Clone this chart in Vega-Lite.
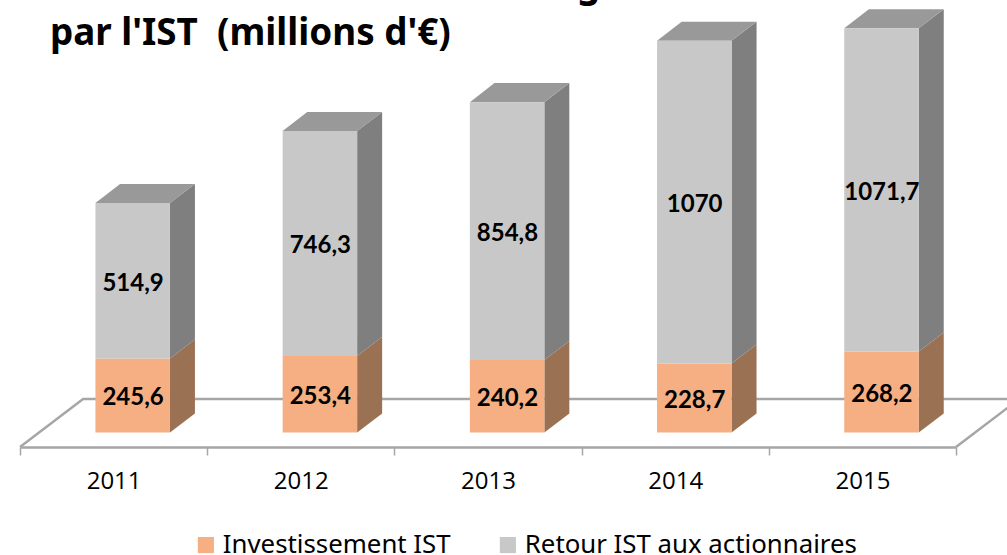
{
"$schema":"https://vega.github.io/schema/vega-lite/v6.json",
"width":936,"height":447,"autosize":"none",
"padding":{"left":20,"top":0,"right":51,"bottom":108},
"background":"white",
"config":{"view":{"stroke":null}},
"datasets":{
"bars":[
{"year":2011,"series":"Investissement IST","order":1,"value":245.6,"label":"245,6"},
{"year":2011,"series":"Retour IST aux actionnaires","order":2,"value":514.9,"label":"514,9"},
{"year":2012,"series":"Investissement IST","order":1,"value":253.4,"label":"253,4"},
{"year":2012,"series":"Retour IST aux actionnaires","order":2,"value":746.3,"label":"746,3"},
{"year":2013,"series":"Investissement IST","order":1,"value":240.2,"label":"240,2"},
{"year":2013,"series":"Retour IST aux actionnaires","order":2,"value":854.8,"label":"854,8"},
{"year":2014,"series":"Investissement IST","order":1,"value":228.7,"label":"228,7"},
{"year":2014,"series":"Retour IST aux actionnaires","order":2,"value":1070,"label":"1070"},
{"year":2015,"series":"Investissement IST","order":1,"value":268.2,"label":"268,2"},
{"year":2015,"series":"Retour IST aux actionnaires","order":2,"value":1071.7,"label":"1071,7"}
],
"floor":[
{"seq":1,"gx":2010.5,"gy":-48},{"seq":2,"gx":2010.837,"gy":111},{"seq":3,"gx":2015.837,"gy":111},{"seq":4,"gx":2015.5,"gy":-48}
],
"heading":[{"gx":2010.66,"gy":1284,"txt":"par l'IST \u00a0(millions d'€)"},{"gx":2013.475,"gy":1443,"txt":"g"}]
},
"data":{"name":"bars"},
"transform":[{"stack":"value","groupby":["year"],"sort":[{"field":"order","order":"ascending"}],"as":["v0","v1"]}],
"layer":[
{"data":{"name":"floor"},"transform":[],
 "mark":{"type":"line","color":"#A6A6A6","strokeWidth":2.5,"clip":false},
 "encoding":{
  "x":{"field":"gx","type":"quantitative","scale":{"domain":[2010.5,2015.5],"zero":false,"nice":false},"title":null,
   "axis":{"values":[2010.5,2011,2011.5,2012,2012.5,2013,2013.5,2014,2014.5,2015,2015.5],"labelExpr":"datum.value%1===0?format(datum.value,'d'):''","tickOpacity":{"expr":"datum.value%1===0?0:1"},"labelOverlap":false,"labelFlush":false,"labelBound":false,"labelPadding":14,"labelFont":"Open Sans","labelFontSize":24,"labelColor":"#000000","tickSize":8,"tickColor":"#A6A6A6","tickWidth":1.5,"domainColor":"#A6A6A6","domainWidth":2.5,"grid":false,"title":null}},
  "y":{"field":"gy","type":"quantitative","scale":{"domain":[-48,1433.5],"zero":false,"nice":false},"axis":null},
  "order":{"field":"seq","type":"quantitative"}
 }},
{"transform":[
  {"calculate":"datum.year+0.301","as":"sx0"},
  {"calculate":"datum.year+0.4345","as":"sx1"},
  {"fold":["sx0","sx1"],"as":["k","sx"]},
  {"calculate":"datum.k==='sx0'?datum.v0:datum.v0+63","as":"sy0"},
  {"calculate":"datum.k==='sx0'?datum.v1:datum.v1+63","as":"sy1"},
  {"calculate":"datum.year+datum.series","as":"face"}
 ],
 "mark":{"type":"area","orient":"vertical","clip":false},
 "encoding":{
  "x":{"field":"sx","type":"quantitative"},
  "y":{"field":"sy0","type":"quantitative","axis":null},
  "y2":{"field":"sy1"},
  "detail":{"field":"face"},
  "fill":{"condition":{"test":"datum.order===1","value":"#9B7153"},"value":"#7F7F7F"}
 }},
{"transform":[
  {"filter":"datum.order===2"},
  {"calculate":"datum.v1","as":"ty_front"},
  {"calculate":"datum.v1+63","as":"ty_back"},
  {"fold":["ty_front","ty_back"],"as":["k","ty"]},
  {"calculate":"datum.k==='ty_front'?datum.year-0.097:datum.year+0.0345","as":"tx0"},
  {"calculate":"datum.k==='ty_front'?datum.year+0.301:datum.year+0.4345","as":"tx1"}
 ],
 "mark":{"type":"area","orient":"horizontal","fill":"#999999","clip":false},
 "encoding":{
  "y":{"field":"ty","type":"quantitative","axis":null},
  "x":{"field":"tx0","type":"quantitative"},
  "x2":{"field":"tx1"},
  "detail":{"field":"year"}
 }},
{"transform":[
  {"calculate":"datum.year-0.097","as":"fx0"},
  {"calculate":"datum.year+0.301","as":"fx1"}
 ],
 "mark":{"type":"rect"},
 "encoding":{
  "x":{"field":"fx0","type":"quantitative"},
  "x2":{"field":"fx1"},
  "y":{"field":"v0","type":"quantitative","axis":null},
  "y2":{"field":"v1"},
  "color":{"field":"series","type":"nominal","scale":{"domain":["Investissement IST","Retour IST aux actionnaires"],"range":["#F5AF82","#C8C8C8"]},
   "legend":{"title":null,"orient":"none","legendX":173,"legendY":532,"direction":"horizontal","symbolType":"square","symbolSize":260,"symbolStrokeWidth":0,"labelFont":"Noto Sans","labelFontSize":25.8,"labelColor":"#000000","columnPadding":44,"labelLimit":500,"labelOffset":4}}
 }},
{"transform":[
  {"calculate":"datum.year+0.104","as":"lx"},
  {"calculate":"(datum.v0+datum.v1)/2","as":"ly"}
 ],
 "mark":{"type":"text","font":"Lato","fontWeight":"bold","fontSize":24,"color":"#000000","dy":3,"baseline":"middle"},
 "encoding":{
  "x":{"field":"lx","type":"quantitative"},
  "y":{"field":"ly","type":"quantitative","axis":null},
  "text":{"field":"label"}
 }},
{"data":{"name":"heading"},"transform":[],
 "mark":{"type":"text","font":"Noto Sans","fontWeight":"bold","fontSize":36.8,"color":"#000000","align":"left","baseline":"alphabetic","clip":false},
 "encoding":{
  "x":{"field":"gx","type":"quantitative"},
  "y":{"field":"gy","type":"quantitative","axis":null},
  "text":{"field":"txt"}
 }}
]
}
